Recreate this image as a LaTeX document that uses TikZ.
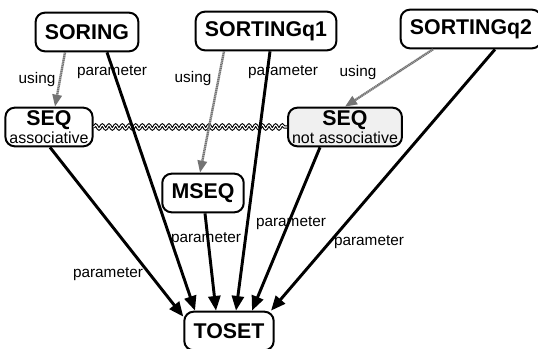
\documentclass[tikz,border=0pt]{standalone}
\usepackage{fontspec}
\setmainfont{Liberation Sans}
\usetikzlibrary{calc,arrows.meta,decorations.pathmorphing}

\tikzset{
  box/.style={draw, line width=1.5pt, rounded corners=7pt, fill=white,
    font=\fontsize{16}{17}\selectfont\bfseries, minimum height=29pt,
    inner xsep=7pt, inner ysep=2pt},
  twoline/.style={align=center, inner xsep=3pt, inner ysep=1pt},
  lbl/.style={font=\fontsize{11.5}{12}\selectfont},
  param/.style={line width=2.2pt, -{Triangle[length=11pt,width=9pt]}},
  using/.style={black!55, line width=1.8pt, dash pattern=on 1pt off 0.4pt,
    -{Triangle[length=9pt,width=7pt]}},
}
\newcommand{\subtxt}[1]{{\fontsize{12}{12}\selectfont\mdseries #1}}

\begin{document}
\begin{tikzpicture}[x=0.75pt, y=-0.75pt]

\useasboundingbox (0,0) rectangle (538,349);

% top row
\node[box] (soring) at (87,32) {SORING};
\node[box] (sortq1) at (266,31) {SORTINGq1};
\node[box] (sortq2) at (471,29) {SORTINGq2};

% middle row
\node[box, twoline] (seqa) at (49,127) {SEQ\\[-4pt]\subtxt{associative}};
\node[box, twoline, fill=gray!12] (seqn) at (345,127) {SEQ\\[-4pt]\subtxt{not associative}};
\node[box] (mseq) at (203,193) {MSEQ};

% bottom
\node[box] (toset) at (229,331) {TOSET};

% wavy link between the two sequences
\draw[decorate, decoration={snake, amplitude=1.5pt, segment length=5pt},
  double, double distance=0.8pt, line width=0.8pt] (seqa.east) -- (seqn.west);

% using arrows
\draw[using] ($(soring.south)+(-22,0)$) -- ($(seqa.north)+(6,0)$);
\draw[using] ($(sortq1.south)+(-42,0)$) -- ($(mseq.north)+(-3,0)$);
\draw[using] ($(sortq2.south)+(-38,0)$) -- (seqn.north);

% parameter arrows
\foreach \from/\dx/\to/\ex/\ey in {soring/20/toset.north/-34/0,
    sortq1/4/toset.north/7/0, sortq2/24/toset.north/42/0,
    mseq/2/toset.north/-13/0, seqn/-25/toset.north/23/0,
    seqa/1/toset.north west/0/6}
  \draw[param] ($(\from.south)+(\dx,0)$) -- ($(\to)+(\ex,\ey)$);

% labels
\node[lbl] (u1) at (37,80) {using};
\node[lbl] (u2) at (193,79) {using};
\node[lbl] (u3) at (358,73) {using};
\node[lbl] (p1) at (112,72) {parameter};
\node[lbl] (p2) at (283,72) {parameter};
\node[lbl] (p3) at (206,239) {parameter};
\node[lbl] (p4) at (108,274) {parameter};
\node[lbl] (p5) at (291,223) {parameter};
\node[lbl] (p6) at (369,242) {parameter};

\end{tikzpicture}
\end{document}
